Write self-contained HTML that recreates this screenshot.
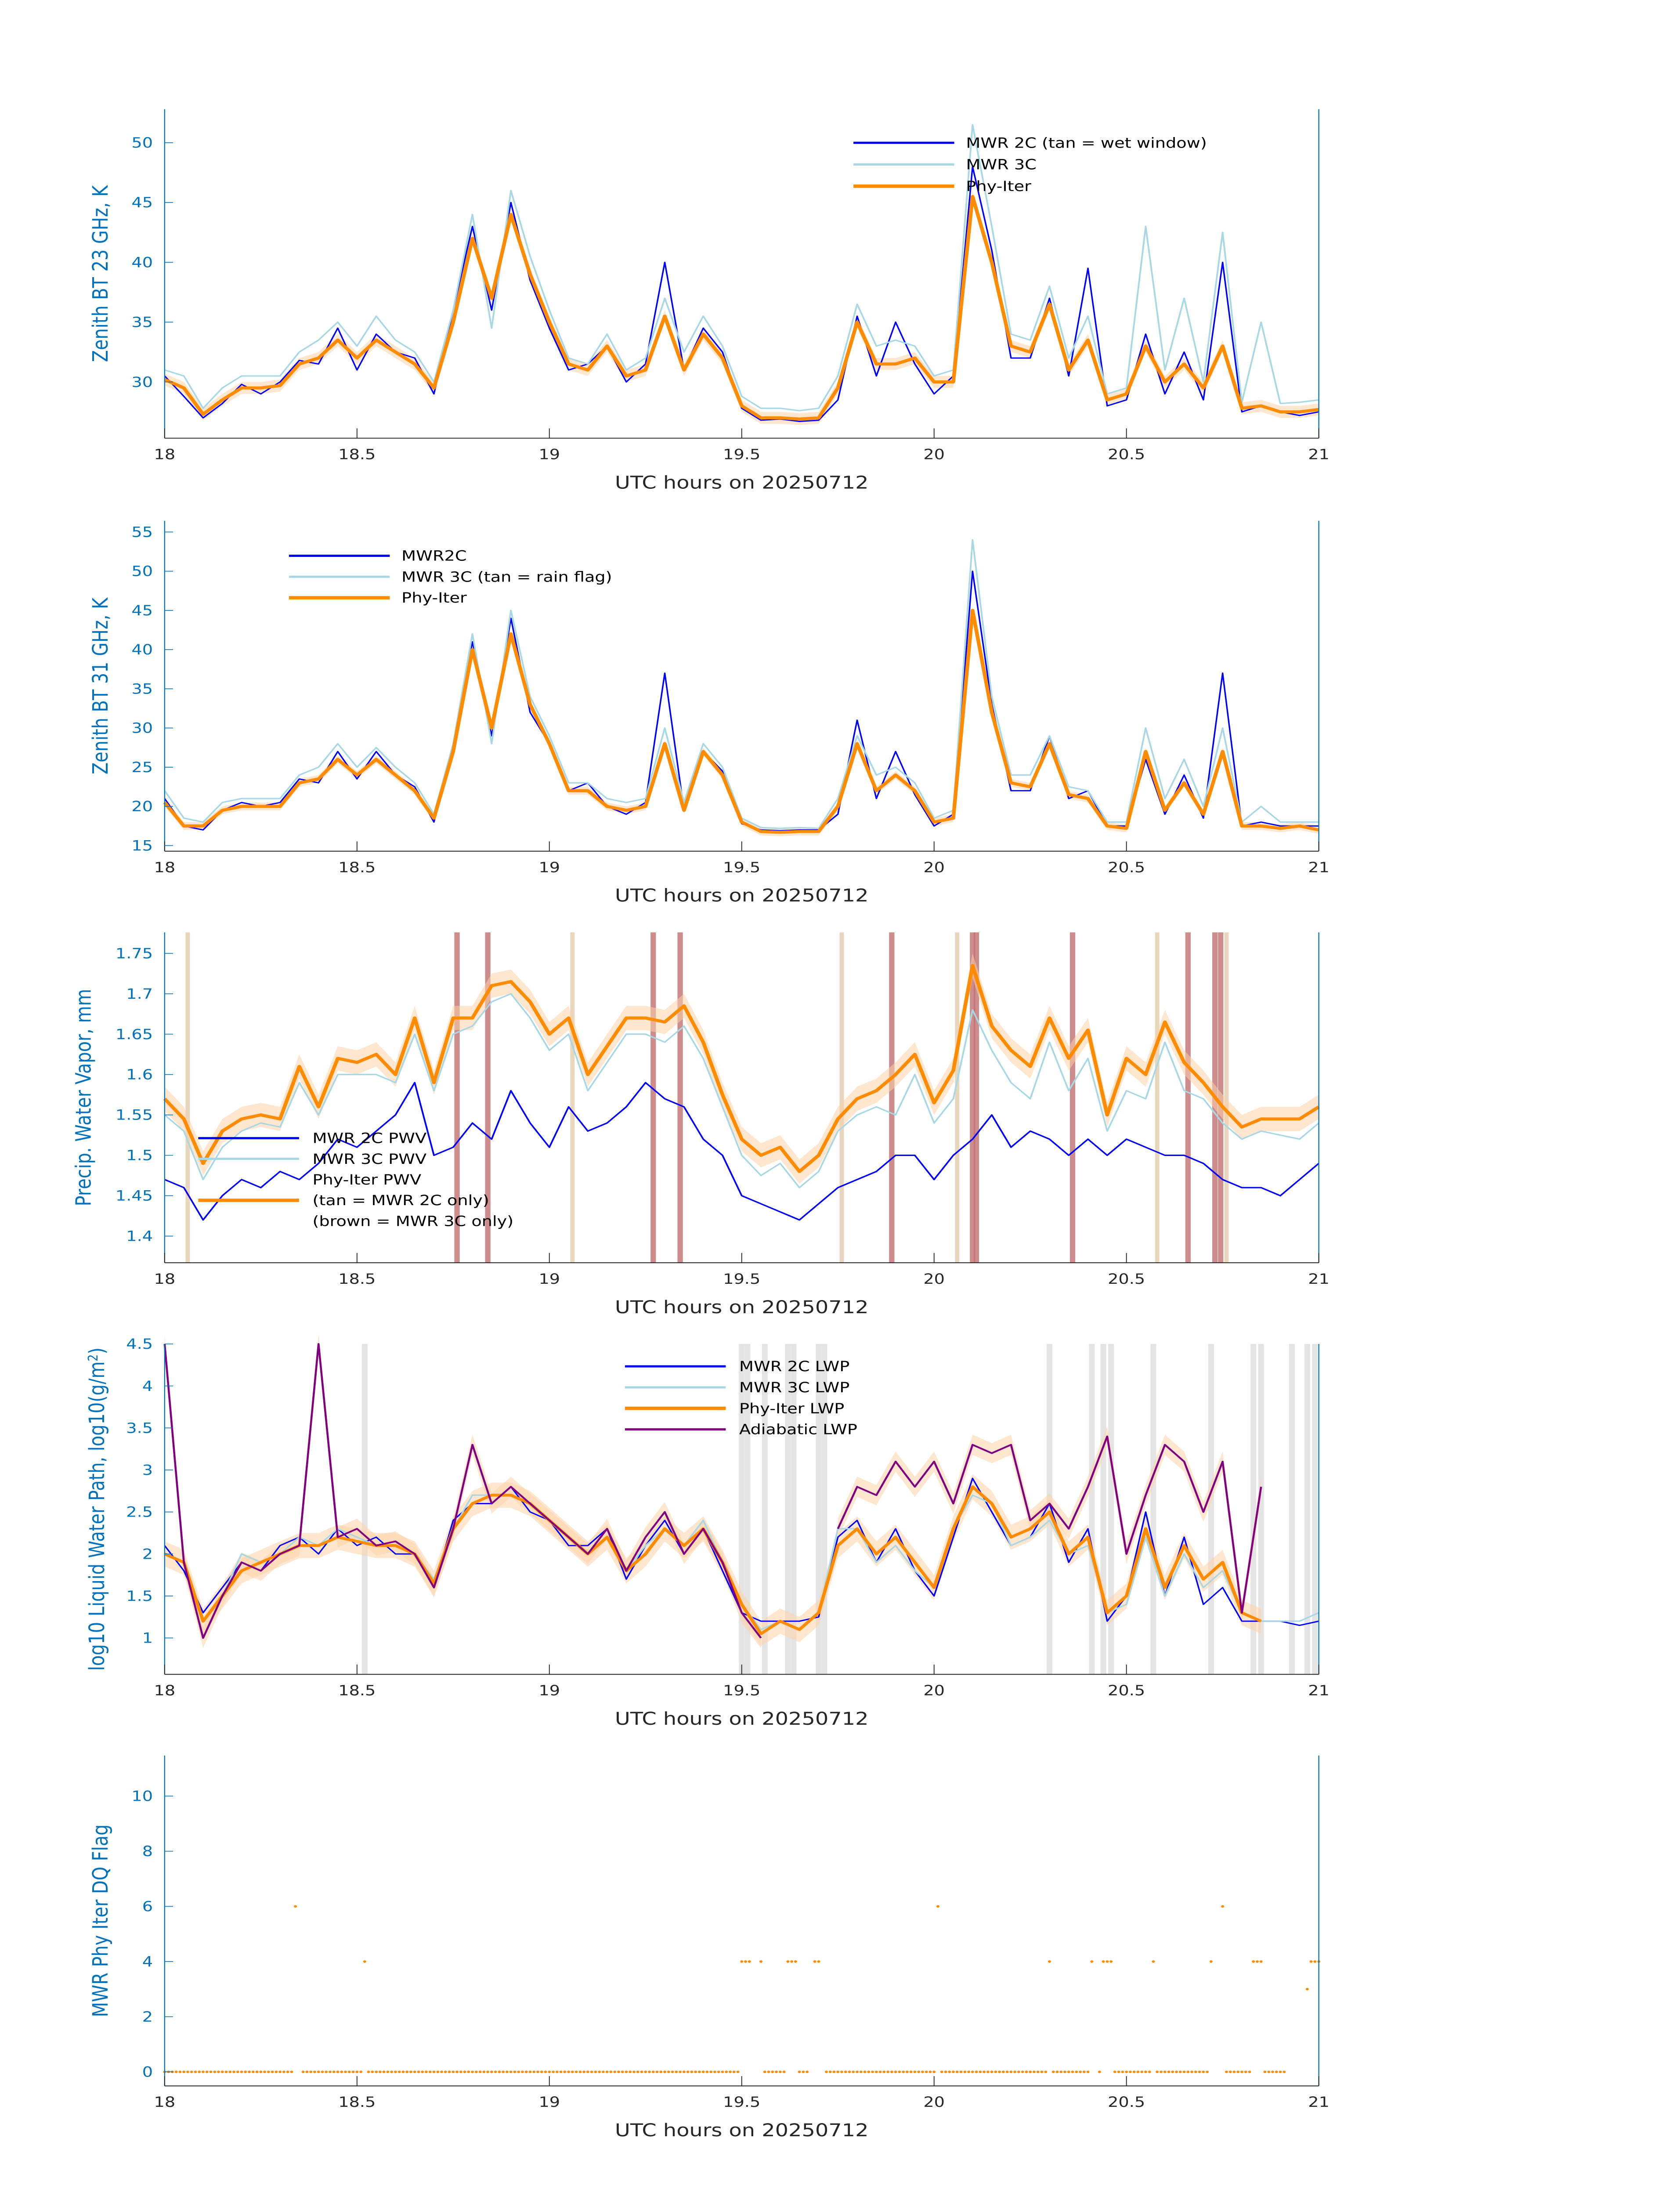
<!DOCTYPE html>
<html><head><meta charset="utf-8">
<style>
html,body{margin:0;padding:0;background:#fff;width:100vw;height:100vh;overflow:hidden;}
svg{display:block;width:100vw;height:100vh;}
text{font-family:"DejaVu Sans","Liberation Sans",sans-serif;}
</style></head>
<body>
<svg id="fig" xmlns="http://www.w3.org/2000/svg" viewBox="0 0 1000 1568.63" preserveAspectRatio="none"></svg>
<script>
// ---------- DATA ----------
const T05 = [];
for (let i = 0; i <= 60; i++) T05.push(18 + i * 0.05);

const bt23Phy = [30.2,29.5,27.3,28.5,29.5,29.5,29.7,31.5,32.0,33.5,32.0,33.5,32.5,31.5,29.5,35.0,42.0,37.0,44.0,39.0,35.0,31.5,31.0,33.0,30.5,31.0,35.5,31.0,34.0,32.0,28.0,27.0,27.0,26.9,27.0,29.5,35.0,31.5,31.5,32.0,30.0,30.0,45.5,40.0,33.0,32.5,36.5,31.0,33.5,28.5,29.0,33.0,30.0,31.5,29.5,33.0,27.8,28.0,27.5,27.5,27.7];
const bt23Mwr2c = [30.5,28.8,27.0,28.2,29.8,29.0,30.0,31.8,31.5,34.5,31.0,34.0,32.5,32.0,29.0,36.0,43.0,36.0,45.0,38.5,34.5,31.0,31.5,33.0,30.0,31.5,40.0,31.0,34.5,32.5,27.8,26.8,26.9,26.7,26.8,28.5,35.5,30.5,35.0,31.5,29.0,30.5,48.0,41.0,32.0,32.0,37.0,30.5,39.5,28.0,28.5,34.0,29.0,32.5,28.5,40.0,27.5,28.0,27.5,27.2,27.5];
const bt23Mwr3c = [31.0,30.5,27.8,29.5,30.5,30.5,30.5,32.5,33.5,35.0,33.0,35.5,33.5,32.5,30.0,36.0,44.0,34.5,46.0,40.5,36.0,32.0,31.5,34.0,31.0,32.0,37.0,32.5,35.5,33.0,28.8,27.8,27.8,27.6,27.8,30.5,36.5,33.0,33.5,33.0,30.5,31.0,51.5,43.0,34.0,33.5,38.0,32.0,35.5,29.0,29.5,43.0,31.0,37.0,30.0,42.5,28.3,35.0,28.2,28.3,28.5];

const bt31Phy = [20.5,17.5,17.5,19.5,20,20,20,23,23.5,26,24,26,24,22,18.5,27,40,30,42,33,28,22,22,20,19.5,20,28,19.5,27,24,18,16.8,16.7,16.8,16.8,20,28,22,24,22,18,18.5,45,32,23,22.5,28,21.5,21,17.5,17.2,27,19.5,23,19,27,17.5,17.5,17.2,17.5,17];
const bt31Mwr2c = [21,17.5,17,19.5,20.5,20,20.5,23.5,23,27,23.5,27,24,22.5,18,28,41,29,44,32,28,22,23,20,19,20.5,37,19.5,27,24.5,17.8,17,16.9,17,17,19,31,21,27,21.5,17.5,19,50,33,22,22,29,21,22,17.5,17.5,26,19,24,18.5,37,17.5,18,17.5,17.5,17.5];
const bt31Mwr3c = [22,18.5,18,20.5,21,21,21,24,25,28,25,27.5,25,23,19,28,42,28,45,34,29,23,23,21,20.5,21,30,20.5,28,25,18.5,17.3,17.2,17.3,17.2,21,29,24,25,23,18.5,19.5,54,34,24,24,29,22.5,22,18,18,30,21,26,20,30,18,20,18,18,18];

const pwvPhy = [1.57,1.545,1.49,1.53,1.545,1.55,1.545,1.61,1.56,1.62,1.615,1.625,1.6,1.67,1.59,1.67,1.67,1.71,1.715,1.69,1.65,1.67,1.6,1.635,1.67,1.67,1.665,1.685,1.64,1.575,1.52,1.5,1.51,1.48,1.5,1.545,1.57,1.58,1.6,1.625,1.565,1.605,1.735,1.66,1.63,1.61,1.67,1.62,1.655,1.55,1.62,1.6,1.665,1.615,1.59,1.56,1.535,1.545,1.545,1.545,1.56];
const pwvMwr3c = [1.55,1.53,1.47,1.51,1.53,1.54,1.535,1.59,1.55,1.6,1.6,1.6,1.59,1.65,1.58,1.65,1.66,1.69,1.7,1.67,1.63,1.65,1.58,1.615,1.65,1.65,1.64,1.66,1.62,1.56,1.5,1.475,1.49,1.46,1.48,1.53,1.55,1.56,1.55,1.6,1.54,1.57,1.68,1.63,1.59,1.57,1.64,1.58,1.62,1.53,1.58,1.57,1.64,1.58,1.57,1.54,1.52,1.53,1.525,1.52,1.54];
const pwvMwr2c = [1.47,1.46,1.42,1.45,1.47,1.46,1.48,1.47,1.49,1.52,1.51,1.53,1.55,1.59,1.5,1.51,1.54,1.52,1.58,1.54,1.51,1.56,1.53,1.54,1.56,1.59,1.57,1.56,1.52,1.5,1.45,1.44,1.43,1.42,1.44,1.46,1.47,1.48,1.5,1.5,1.47,1.5,1.52,1.55,1.51,1.53,1.52,1.5,1.52,1.5,1.52,1.51,1.5,1.5,1.49,1.47,1.46,1.46,1.45,1.47,1.49];
const pwvTanBands = [18.06,19.06,19.76,20.06,20.58,20.76];
const pwvBrownBands = [18.76,18.84,19.27,19.34,19.89,20.1,20.11,20.36,20.66,20.73,20.745];

const lwpPhy = [2.0,1.9,1.2,1.5,1.8,1.9,2.0,2.1,2.1,2.2,2.15,2.1,2.1,2.0,1.65,2.3,2.6,2.7,2.7,2.6,2.4,2.2,2.0,2.2,1.8,2.0,2.3,2.1,2.3,1.9,1.4,1.05,1.2,1.1,1.3,2.1,2.3,2.0,2.2,1.9,1.6,2.3,2.8,2.6,2.2,2.3,2.5,2.0,2.2,1.3,1.5,2.3,1.6,2.1,1.7,1.9,1.3,1.2,null,null,1.2];
const lwpMwr2c = [2.1,1.8,1.3,1.6,1.9,1.8,2.1,2.2,2.0,2.3,2.1,2.2,2.0,2.0,1.6,2.4,2.6,2.6,2.8,2.5,2.4,2.1,2.1,2.3,1.7,2.1,2.4,2.0,2.3,1.8,1.3,1.2,1.2,1.2,1.25,2.2,2.4,1.9,2.3,1.8,1.5,2.2,2.9,2.5,2.1,2.2,2.6,1.9,2.3,1.2,1.5,2.5,1.5,2.2,1.4,1.6,1.2,1.2,1.2,1.15,1.2];
const lwpMwr3c = [2.0,1.9,1.2,1.5,2.0,1.9,2.0,2.2,2.1,2.3,2.2,2.1,2.1,2.0,1.7,2.3,2.7,2.7,2.7,2.6,2.4,2.2,2.0,2.3,1.8,2.1,2.3,2.1,2.4,1.9,1.4,1.1,1.2,1.1,1.3,2.3,2.3,1.9,2.1,1.8,1.6,2.3,2.7,2.6,2.1,2.2,2.4,2.0,2.1,1.3,1.4,2.2,1.5,2.0,1.6,1.8,1.3,1.2,1.2,1.2,1.3];
const lwpAdiab = [4.5,1.9,1.0,1.5,1.9,1.8,2.0,2.1,4.5,2.2,2.3,2.1,2.15,2.0,1.6,2.3,3.3,2.6,2.8,2.6,2.4,2.2,2.0,2.3,1.8,2.2,2.5,2.0,2.3,1.9,1.3,1.0,null,null,null,2.3,2.8,2.7,3.1,2.8,3.1,2.6,3.3,3.2,3.3,2.4,2.6,2.3,2.8,3.4,2.0,2.7,3.3,3.1,2.5,3.1,1.3,2.8,null,null,null];
const lwpGrayBands = [18.52,19.5,19.515,19.56,19.62,19.635,19.7,19.715,20.3,20.41,20.44,20.46,20.57,20.72,20.83,20.85,20.93,20.97,20.99];

const dqStep = 0.01;
const dqCodes = "0".repeat(34)+"6"+"."+"0".repeat(16)+"4"+"0".repeat(97)+"444"+"."+"."+"4"+"0".repeat(6)+"444"+"000"+"."+"44"+"."+"0".repeat(29)+"6"+"0".repeat(28)+"4"+"0".repeat(10)+"4"+"."+"0"+"444"+"0".repeat(10)+"4"+"0".repeat(14)+"4"+".."+"6"+"0".repeat(7)+"444"+"0".repeat(6)+"....."+"3"+"444";

const xTicks = [18,18.5,19,19.5,20,20.5,21];
const xTickLabels = ["18","18.5","19","19.5","20","20.5","21"];

// ---------- DRAWING ----------
const NS = "http://www.w3.org/2000/svg";
const svg = document.getElementById('fig');
const X0 = 98, X1 = 785;
function mk(tag, attrs, parent) {
  const e = document.createElementNS(NS, tag);
  for (const k in attrs) e.setAttribute(k, attrs[k]);
  (parent || svg).appendChild(e);
  return e;
}
function xs(t) { return X0 + (t - 18) / 3 * (X1 - X0); }

function makePanel(name, top, bottom, ymin, ymax, yticks, ylab, ylabX, tickFmt) {
  const g = mk('g', {});
  
  
  const ys = v => bottom - (v - ymin) / (ymax - ymin) * (bottom - top);
  const plot = mk('g', {}, g);
  
  
  const axes = mk('g', {}, g);
  
  
  const la = mk('line', {x1:X0,y1:top,x2:X0,y2:bottom,stroke:'#0072BD','stroke-width':0.6}, axes);
  
  
  const ra = mk('line', {x1:X1,y1:top,x2:X1,y2:bottom,stroke:'#0072BD','stroke-width':0.6}, axes);
  
  
  const ba = mk('line', {x1:X0,y1:bottom,x2:X1,y2:bottom,stroke:'#262626','stroke-width':0.6}, axes);
  
  
  xTicks.forEach((t, i) => {
    mk('line', {x1:xs(t),y1:bottom,x2:xs(t),y2:bottom-7,stroke:'#262626','stroke-width':0.5}, axes);
    const tl = mk('text', {x:xs(t),y:bottom+15,'font-size':10,'text-anchor':'middle',fill:'#262626'}, axes);
    tl.textContent = xTickLabels[i];
    
    
  });
  yticks.forEach(v => {
    mk('line', {x1:X0,y1:ys(v),x2:X0+5,y2:ys(v),stroke:'#0072BD','stroke-width':0.5}, axes);
    const tl = mk('text', {x:X0-7,y:ys(v)+3.5,'font-size':10,'text-anchor':'end',fill:'#0072BD'}, axes);
    tl.textContent = tickFmt(v);
    
    
  });
  const xl = mk('text', {x:(X0+X1)/2,y:bottom+36,'font-size':12.5,'text-anchor':'middle',fill:'#262626'}, axes);
  xl.textContent = 'UTC hours on 20250712';
  
  
  const cy = (top + bottom) / 2;
  const yl = mk('text', {x:ylabX,y:cy,'font-size':12.5,'text-anchor':'middle',fill:'#0072BD',transform:`rotate(-90 ${ylabX} ${cy})`}, axes);
  yl.innerHTML = ylab;
  
  
  return {g:plot, ys, top, bottom};
}
function pathOf(tArr, vArr, ys) {
  let d = '', pen = false;
  for (let i = 0; i < vArr.length; i++) {
    const v = vArr[i];
    if (v === null) { pen = false; continue; }
    d += (pen ? 'L' : 'M') + xs(tArr[i]).toFixed(2) + ',' + ys(v).toFixed(2);
    pen = true;
  }
  return d;
}
function line(p, tArr, vArr, color, w, name) {
  const e = mk('path', {d:pathOf(tArr, vArr, p.ys),fill:'none',stroke:color,'stroke-width':w,'stroke-linejoin':'round'}, p.g);
  
  
}
function band(p, tArr, vArr, err, name) {
  let segs = [], cur = [];
  vArr.forEach((v, i) => { if (v === null) { if (cur.length) segs.push(cur); cur = []; } else cur.push(i); });
  if (cur.length) segs.push(cur);
  segs.forEach(s => {
    let d = s.map((i, k) => (k ? 'L' : 'M') + xs(tArr[i]).toFixed(2) + ',' + p.ys(vArr[i] + err).toFixed(2)).join('');
    d += s.slice().reverse().map(i => 'L' + xs(tArr[i]).toFixed(2) + ',' + p.ys(vArr[i] - err).toFixed(2)).join('') + 'Z';
    const e = mk('path', {d, fill:'#fdd2a8', opacity:0.55}, p.g);
    
    
  });
}
function vband(p, t, w, color, op, name) {
  const e = mk('rect', {x:xs(t)-w/2,y:p.top,width:w,height:p.bottom-p.top,fill:color,opacity:op}, p.g);
  
  
}
function legend(items, lx, ly, dy, textX) {
  const g = mk('g', {});
  
  
  items.forEach((it, i) => {
    const y = ly + i * dy;
    if (it.color) {
      const l = mk('line', {x1:lx,y1:y,x2:lx+60,y2:y,stroke:it.color,'stroke-width':it.w}, g);
      
      
    }
    const t = mk('text', {x:textX,y:y+3.5,'font-size':10,fill:'#000'}, g);
    t.textContent = it.label;
    
    
  });
}
const BLUE = '#0000ff', LBLUE = '#a8d8e6', ORANGE = '#ff8c00', PURPLE = '#800080';

// Panel 1
const p1 = makePanel('bt23-panel', 78, 313, 25.3, 52.8, [30,35,40,45,50], 'Zenith BT 23 GHz, K', 64, v => String(v));
band(p1, T05, bt23Phy, 0.5, 'phy-iter-uncertainty');
line(p1, T05, bt23Mwr2c, BLUE, 0.9, 'mwr-2c-line');
line(p1, T05, bt23Mwr3c, LBLUE, 1.0, 'mwr-3c-line');
line(p1, T05, bt23Phy, ORANGE, 2.2, 'phy-iter-line');
legend([{label:'MWR 2C (tan = wet window)',color:BLUE,w:1.6},{label:'MWR 3C',color:LBLUE,w:1.6},{label:'Phy-Iter',color:ORANGE,w:2.4}], 508, 102, 15.5, 575);

// Panel 2
const p2 = makePanel('bt31-panel', 372, 608, 14.29, 56.43, [15,20,25,30,35,40,45,50,55], 'Zenith BT 31 GHz, K', 64, v => String(v));
band(p2, T05, bt31Phy, 0.5, 'phy-iter-uncertainty');
line(p2, T05, bt31Mwr2c, BLUE, 0.9, 'mwr-2c-line');
line(p2, T05, bt31Mwr3c, LBLUE, 1.0, 'mwr-3c-line');
line(p2, T05, bt31Phy, ORANGE, 2.2, 'phy-iter-line');
legend([{label:'MWR2C',color:BLUE,w:1.6},{label:'MWR 3C (tan = rain flag)',color:LBLUE,w:1.6},{label:'Phy-Iter',color:ORANGE,w:2.4}], 172, 397, 15, 239);

// Panel 3
const p3 = makePanel('pwv-panel', 666, 902, 1.367, 1.776, [1.4,1.45,1.5,1.55,1.6,1.65,1.7,1.75], 'Precip. Water Vapor, mm', 54, v => v.toFixed(2).replace(/0$/, ''));
pwvTanBands.forEach(t => vband(p3, t, 2.6, '#e8d6bd', 1, 'tan-flag-band'));
pwvBrownBands.forEach(t => vband(p3, t, 3.2, '#c07070', 0.8, 'brown-flag-band'));
band(p3, T05, pwvPhy, 0.015, 'phy-iter-uncertainty');
line(p3, T05, pwvMwr2c, BLUE, 1.0, 'mwr-2c-pwv-line');
line(p3, T05, pwvMwr3c, LBLUE, 1.0, 'mwr-3c-pwv-line');
line(p3, T05, pwvPhy, ORANGE, 2.2, 'phy-iter-pwv-line');
legend([{label:'MWR 2C PWV',color:BLUE,w:1.6},{label:'MWR 3C PWV',color:LBLUE,w:1.6},{label:'Phy-Iter PWV'},{label:'(tan = MWR 2C only)',color:ORANGE,w:2.4},{label:'(brown = MWR 3C only)'}], 118, 813, 14.8, 186);

// Panel 4
const p4 = makePanel('lwp-panel', 960, 1196, 0.567, 4.5, [1,1.5,2,2.5,3,3.5,4,4.5], 'log10 Liquid Water Path, log10(g/m<tspan dy="-4" font-size="8">2</tspan><tspan dy="4">)</tspan>', 62, v => String(v));
lwpGrayBands.forEach(t => vband(p4, t, 3.4, '#d9d9d9', 0.7, 'gray-flag-band'));
band(p4, T05, lwpPhy, 0.15, 'phy-iter-uncertainty');
band(p4, T05, lwpAdiab, 0.12, 'adiabatic-uncertainty');
line(p4, T05, lwpMwr2c, BLUE, 0.9, 'mwr-2c-lwp-line');
line(p4, T05, lwpMwr3c, LBLUE, 1.0, 'mwr-3c-lwp-line');
line(p4, T05, lwpPhy, ORANGE, 2.0, 'phy-iter-lwp-line');
line(p4, T05, lwpAdiab, PURPLE, 1.2, 'adiabatic-lwp-line');
legend([{label:'MWR 2C LWP',color:BLUE,w:1.6},{label:'MWR 3C LWP',color:LBLUE,w:1.6},{label:'Phy-Iter LWP',color:ORANGE,w:2.4},{label:'Adiabatic LWP',color:PURPLE,w:1.6}], 372, 976, 15, 440);

// Panel 5
const p5 = makePanel('dq-flag-panel', 1254, 1490, -0.51, 11.47, [0,2,4,6,8,10], 'MWR Phy Iter DQ Flag', 64, v => String(v));
for (let i = 0; i < dqCodes.length; i++) {
  const c = dqCodes[i];
  if (c === '.') continue;
  const t = 18 + i * dqStep;
  const d = mk('circle', {cx:xs(t), cy:p5.ys(+c), r:0.9, fill:ORANGE}, p5.g);
  
  
}
</script>
</body></html>
